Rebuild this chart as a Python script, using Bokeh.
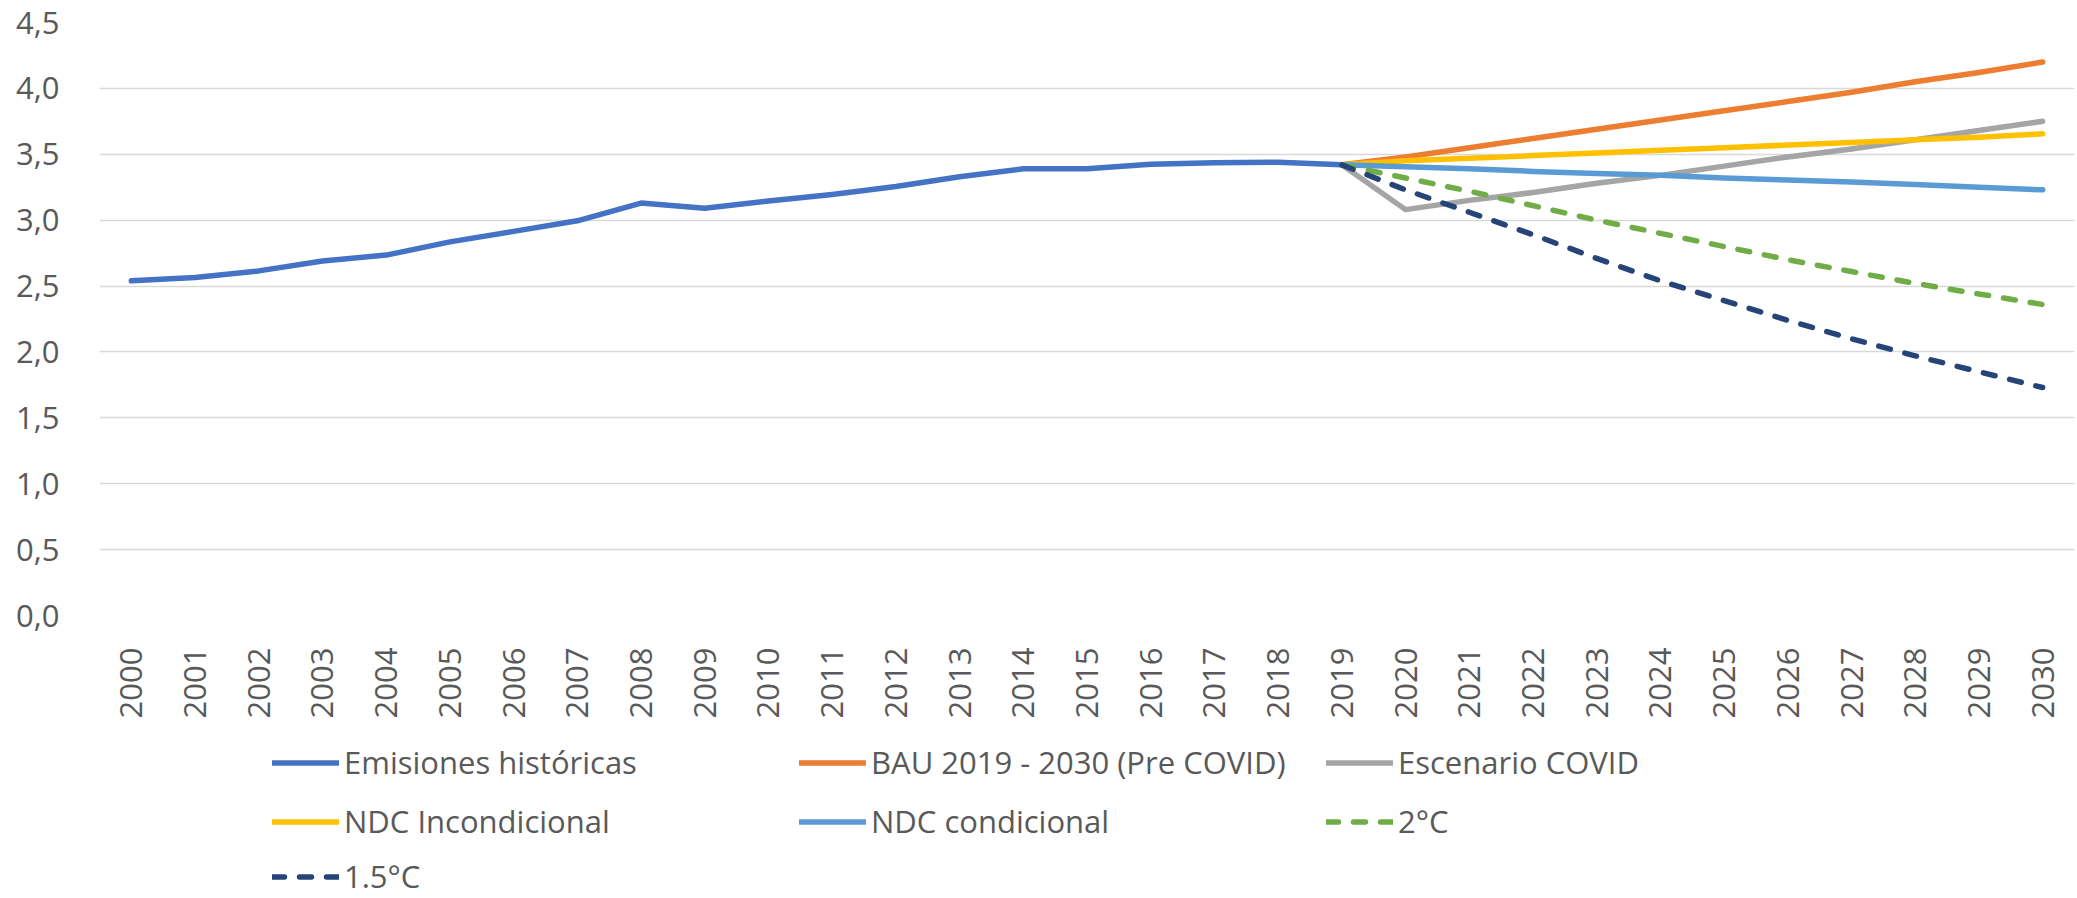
import math
from bokeh.plotting import figure
from bokeh.layouts import column
from bokeh.models import (FactorRange, Range1d, FixedTicker, CustomJSTickFormatter,
                          Legend, LegendItem)
from bokeh.embed import file_html
from bokeh.resources import INLINE

# ---------------- data ----------------
years = [str(y) for y in range(2000, 2031)]
hist_years = [str(y) for y in range(2000, 2020)]
proj_years = [str(y) for y in range(2019, 2031)]

emisiones_historicas = [2.54, 2.565, 2.615, 2.69, 2.735, 2.835, 2.915, 2.995, 3.13, 3.09,
                        3.145, 3.195, 3.255, 3.33, 3.39, 3.39, 3.425, 3.435, 3.44, 3.42]
bau_pre_covid = [3.42, 3.48, 3.55, 3.62, 3.69, 3.76, 3.83, 3.90, 3.97, 4.05, 4.12, 4.20]
escenario_covid = [3.42, 3.08, 3.15, 3.21, 3.28, 3.34, 3.41, 3.48, 3.54, 3.61, 3.68, 3.75]
ndc_incondicional = [3.42, 3.45, 3.47, 3.49, 3.51, 3.53, 3.55, 3.57, 3.59, 3.61, 3.63, 3.655]
ndc_condicional = [3.42, 3.405, 3.39, 3.37, 3.355, 3.34, 3.32, 3.305, 3.29, 3.27, 3.25, 3.23]
esc_2c = [3.42, 3.32, 3.22, 3.11, 3.00, 2.90, 2.80, 2.70, 2.61, 2.52, 2.44, 2.36]
esc_15c = [3.42, 3.23, 3.06, 2.89, 2.71, 2.54, 2.39, 2.24, 2.10, 1.97, 1.85, 1.73]

y_ticks = [0.0, 0.5, 1.0, 1.5, 2.0, 2.5, 3.0, 3.5, 4.0, 4.5]

series = [
    ("Emisiones históricas", hist_years, emisiones_historicas, "#4472C4", None),
    ("BAU 2019 - 2030 (Pre COVID)", proj_years, bau_pre_covid, "#ED7D31", None),
    ("Escenario COVID", proj_years, escenario_covid, "#A5A5A5", None),
    ("NDC Incondicional", proj_years, ndc_incondicional, "#FFC000", None),
    ("NDC condicional", proj_years, ndc_condicional, "#5B9BD5", None),
    ("2°C", proj_years, esc_2c, "#70AD47", "12 15"),
    ("1.5°C", proj_years, esc_15c, "#264478", "12 15"),
]

FONT = "Open Sans"
TXT = "#595959"
FS = "31px"
W = 2077
H_TOP = 725
H_LEG = 898 - H_TOP


def style(color, dash):
    kw = dict(line_color=color, line_width=5.5, line_join="round", line_cap="round")
    if dash:
        kw["line_dash"] = dash
    return kw


# ---------------- main chart ----------------
p = figure(width=W, height=H_TOP, output_backend="svg", toolbar_location=None,
           x_range=FactorRange(factors=years, range_padding=0),
           y_range=Range1d(0, 4.5),
           min_border_left=99, min_border_right=3, min_border_top=22,
           min_border_bottom=110)
p.outline_line_color = None
p.background_fill_color = "white"
p.border_fill_color = "white"

p.xgrid.grid_line_color = None
p.ygrid.grid_line_color = "#D9D9D9"
p.ygrid.grid_line_width = 1.5
p.yaxis.ticker = FixedTicker(ticks=y_ticks)
p.yaxis.formatter = CustomJSTickFormatter(code="return tick.toFixed(1).replace('.', ',');")
p.ygrid.ticker = FixedTicker(ticks=y_ticks)

for ax in (p.xaxis[0], p.yaxis[0]):
    ax.axis_line_color = None
    ax.major_tick_line_color = None
    ax.minor_tick_line_color = None
    ax.major_label_text_font = FONT
    ax.major_label_text_font_size = FS
    ax.major_label_text_color = TXT
p.yaxis.major_label_standoff = 34
p.xaxis.major_label_orientation = math.pi / 2
p.xaxis.major_label_standoff = 26

for name, xs, ys, color, dash in series:
    p.line(xs, ys, **style(color, dash))

# ---------------- legend strip (keys only; series kept out of view) ----------------
lg = figure(width=W, height=H_LEG, output_backend="svg", toolbar_location=None,
            x_axis_type=None, y_axis_type=None,
            x_range=FactorRange(factors=years, range_padding=0),
            y_range=Range1d(100, 101),
            min_border=0, min_border_left=0, min_border_right=0,
            min_border_top=0, min_border_bottom=0)
lg.outline_line_color = None
lg.background_fill_color = "white"
lg.border_fill_color = "white"

keys = []
for name, xs, ys, color, dash in series:
    r = lg.line(xs, ys, **style(color, dash))
    keys.append((name, r))

rows = [keys[0:3], keys[3:6], keys[6:7]]
# bottom of each legend row, measured up from the bottom of the strip
row_bottoms = [105.5, 46.5, -8.5]
for row, vy in zip(rows, row_bottoms):
    leg = Legend(items=[LegendItem(label=n, renderers=[r]) for n, r in row],
                 orientation="horizontal", location=(173, vy),
                 glyph_width=67, glyph_height=61, label_standoff=5,
                 label_width=455, spacing=0, padding=0, margin=0,
                 label_text_font=FONT, label_text_font_size=FS,
                 label_text_color=TXT, background_fill_alpha=0,
                 border_line_color=None)
    lg.add_layout(leg)

layout = column(p, lg, spacing=0)
open("out.html", "w").write(file_html(layout, INLINE))
